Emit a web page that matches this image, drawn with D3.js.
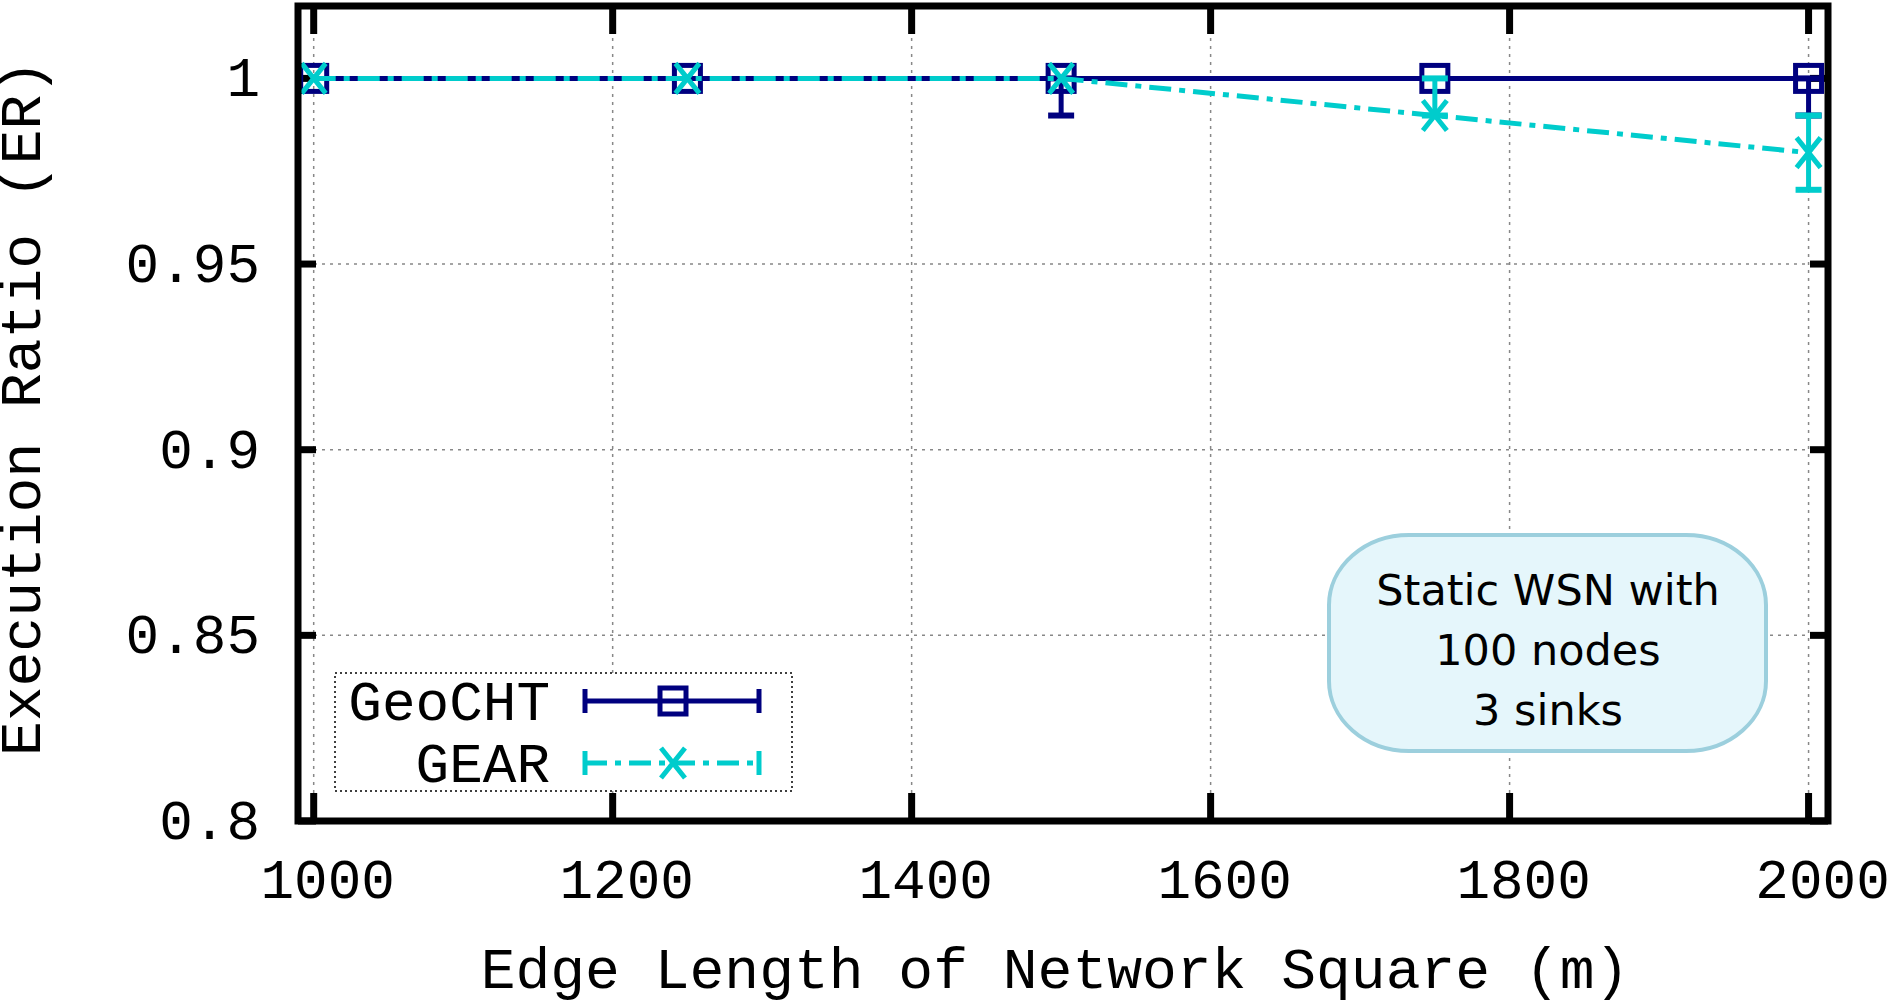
<!DOCTYPE html>
<html><head><meta charset="utf-8">
<script src="https://cdn.jsdelivr.net/npm/d3@7"></script>
<style>body{margin:0;background:#fff}</style>
</head><body>
<svg id="chart" width="1894" height="1000"></svg>
<script>
var edgeLengths = [1000, 1250, 1500, 1750, 2000];
var geoCht = [1, 1, 1, 1, 1];
var geoChtLow = [1, 1, 0.99, 1, 0.99];
var geoChtHigh = [1, 1, 1, 1, 1];
var gear = [1, 1, 1, 0.99, 0.98];
var gearLow = [1, 1, 1, 0.99, 0.97];
var gearHigh = [1, 1, 1, 1, 0.99];
var xTicks = [1000, 1200, 1400, 1600, 1800, 2000];
var yTicks = [0.8, 0.85, 0.9, 0.95, 1];

(function () {
  var svg = d3.select("#chart");
  var mono = "'Liberation Mono', 'DejaVu Sans Mono', monospace";
  var pLeft = 298, pRight = 1828, pTop = 6, pBottom = 821;
  var x = d3.scaleLinear().domain([989.5, 2013]).range([pLeft, pRight]);
  var y = d3.scaleLinear().domain([0.8, 1.0195]).range([pBottom, pTop]);
  var navy = "#00007f", cyan = "#00cccc";

  // grid
  var grid = svg.append("g").attr("stroke", "#888").attr("stroke-width", 1.5).attr("stroke-dasharray", "3,5");
  grid.selectAll(".gx").data(xTicks).enter().append("line")
    .attr("x1", d => x(d)).attr("x2", d => x(d)).attr("y1", pTop).attr("y2", pBottom);
  grid.selectAll(".gy").data(yTicks).enter().append("line")
    .attr("y1", d => y(d)).attr("y2", d => y(d)).attr("x1", pLeft).attr("x2", pRight);

  // tick marks
  var ticks = svg.append("g").attr("stroke", "#000").attr("stroke-width", 7);
  xTicks.forEach(function (d) {
    ticks.append("line").attr("x1", x(d)).attr("x2", x(d)).attr("y1", pBottom).attr("y2", pBottom - 28);
    ticks.append("line").attr("x1", x(d)).attr("x2", x(d)).attr("y1", pTop).attr("y2", pTop + 28);
  });
  yTicks.forEach(function (d) {
    ticks.append("line").attr("y1", y(d)).attr("y2", y(d)).attr("x1", pLeft).attr("x2", pLeft + 18);
    ticks.append("line").attr("y1", y(d)).attr("y2", y(d)).attr("x1", pRight).attr("x2", pRight - 18);
  });

  // tick labels
  svg.selectAll(".xl").data(xTicks).enter().append("text")
    .attr("x", d => x(d) + 14).attr("y", 898).attr("text-anchor", "middle")
    .attr("font-family", mono).attr("font-size", 56).text(d => d);
  svg.selectAll(".yl").data(yTicks).enter().append("text")
    .attr("x", 260).attr("y", d => y(d) + 18).attr("text-anchor", "end")
    .attr("font-family", mono).attr("font-size", 56).text(d => d);

  svg.append("text").attr("x", 1055).attr("y", 988).attr("text-anchor", "middle")
    .attr("font-family", mono).attr("font-size", 58).text("Edge Length of Network Square (m)");
  svg.append("text").attr("transform", "translate(40,408) rotate(-90)").attr("text-anchor", "middle")
    .attr("font-family", mono).attr("font-size", 58).text("Execution Ratio (ER)");

  // annotation box
  svg.append("rect").attr("x", 1329).attr("y", 535).attr("width", 437).attr("height", 216)
    .attr("rx", 80).attr("ry", 70).attr("fill", "#e5f6fb").attr("stroke", "#9ccfdd").attr("stroke-width", 4);
  ["Static WSN with", "100 nodes", "3 sinks"].forEach(function (t, i) {
    svg.append("text").attr("x", 1548).attr("y", 605 + i * 60).attr("text-anchor", "middle")
      .attr("font-family", "'DejaVu Sans', sans-serif").attr("font-size", 43).text(t);
  });

  // legend
  svg.append("rect").attr("x", 335).attr("y", 673).attr("width", 457).attr("height", 118)
    .attr("fill", "#fff").attr("stroke", "#000").attr("stroke-width", 1.5).attr("stroke-dasharray", "2,3");

  function square(g, cx, cy) {
    g.append("rect").attr("x", cx - 13).attr("y", cy - 13).attr("width", 26).attr("height", 26)
      .attr("fill", "none").attr("stroke", navy).attr("stroke-width", 5);
  }
  function cross(g, cx, cy) {
    g.append("path").attr("d", "M" + (cx - 12) + "," + (cy - 15) + "L" + (cx + 12) + "," + (cy + 15) +
      "M" + (cx - 12) + "," + (cy + 15) + "L" + (cx + 12) + "," + (cy - 15))
      .attr("stroke", cyan).attr("stroke-width", 5).attr("fill", "none");
  }
  function errBar(g, cx, lo, hi, color) {
    if (lo === hi) return;
    g.append("line").attr("x1", cx).attr("x2", cx).attr("y1", y(lo)).attr("y2", y(hi)).attr("stroke", color).attr("stroke-width", 5);
    [lo, hi].forEach(function (v) {
      g.append("line").attr("x1", cx - 13).attr("x2", cx + 13).attr("y1", y(v)).attr("y2", y(v)).attr("stroke", color).attr("stroke-width", 6);
    });
  }

  var leg = svg.append("g");
  [["GeoCHT", navy, null, 701], ["GEAR", cyan, "22,8,6,8", 763]].forEach(function (e, i) {
    leg.append("text").attr("x", 550).attr("y", e[3] + 19).attr("text-anchor", "end")
      .attr("font-family", mono).attr("font-size", 56).text(e[0]);
    leg.append("line").attr("x1", 585).attr("x2", 759).attr("y1", e[3]).attr("y2", e[3])
      .attr("stroke", e[1]).attr("stroke-width", 5).attr("stroke-dasharray", e[2]);
    [585, 759].forEach(function (xx) {
      leg.append("line").attr("x1", xx).attr("x2", xx).attr("y1", e[3] - 12).attr("y2", e[3] + 12).attr("stroke", e[1]).attr("stroke-width", 5);
    });
    if (i === 0) square(leg, 673, e[3]); else cross(leg, 673, e[3]);
  });

  // series
  var line = d3.line().x((d, i) => x(edgeLengths[i])).y(d => y(d));
  var plot = svg.append("g");
  plot.append("path").datum(geoCht).attr("d", line).attr("fill", "none").attr("stroke", navy).attr("stroke-width", 5);
  edgeLengths.forEach(function (d, i) { errBar(plot, x(d), geoChtLow[i], geoChtHigh[i], navy); square(plot, x(d), y(geoCht[i])); });
  plot.append("path").datum(gear).attr("d", line).attr("fill", "none").attr("stroke", cyan).attr("stroke-width", 5).attr("stroke-dasharray", "22,8,6,8");
  edgeLengths.forEach(function (d, i) { errBar(plot, x(d), gearLow[i], gearHigh[i], cyan); cross(plot, x(d), y(gear[i])); });

  // frame
  svg.append("rect").attr("x", pLeft).attr("y", pTop).attr("width", pRight - pLeft).attr("height", pBottom - pTop)
    .attr("fill", "none").attr("stroke", "#000").attr("stroke-width", 7);
})();
</script>
</body></html>
